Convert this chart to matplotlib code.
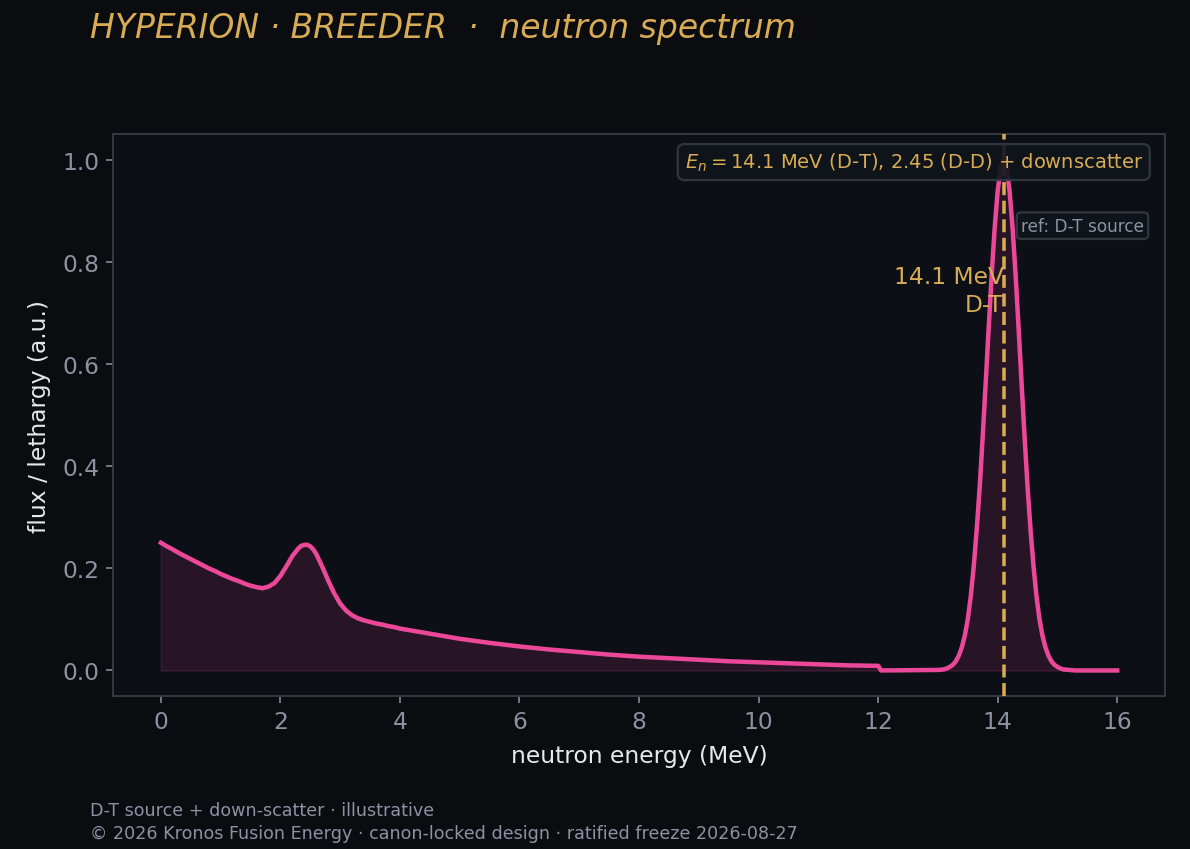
import numpy as np
import matplotlib
matplotlib.use("Agg")
import matplotlib.pyplot as plt

# continuum: slowing-down tail + D-D bump at 2.45 MeV
e_cont = [0.0, 0.1, 0.2, 0.3, 0.4, 0.5, 0.6, 0.7, 0.8, 0.9,
          1.0, 1.1, 1.2, 1.3, 1.4, 1.5, 1.6, 1.7, 1.8, 1.9,
          2.0, 2.1, 2.2, 2.3, 2.35, 2.4, 2.45, 2.5, 2.55, 2.6, 2.7, 2.8, 2.9,
          3.0, 3.1, 3.2, 3.3, 3.4, 3.5, 3.6, 3.7, 3.8, 3.9,
          4.0, 4.5, 5.0, 5.5, 6.0, 6.5, 7.0, 7.5, 8.0, 8.5,
          9.0, 9.5, 10.0, 10.5, 11.0, 11.5, 12.0]
f_cont = [0.250, 0.243, 0.237, 0.230, 0.224, 0.218, 0.212, 0.206, 0.200, 0.195,
          0.189, 0.184, 0.179, 0.175, 0.170, 0.166, 0.163, 0.161, 0.164, 0.171,
          0.185, 0.204, 0.224, 0.239, 0.244, 0.246, 0.246, 0.243, 0.237, 0.228, 0.203, 0.176, 0.151,
          0.131, 0.117, 0.108, 0.102, 0.098, 0.095, 0.092, 0.090, 0.087, 0.085,
          0.082, 0.072, 0.062, 0.054, 0.047, 0.041, 0.036, 0.031, 0.027, 0.024,
          0.021, 0.018, 0.016, 0.014, 0.012, 0.010, 0.009]

# D-T line at 14.1 MeV
e_peak = [12.05, 13.0, 13.1, 13.15, 13.2, 13.25, 13.3, 13.35, 13.4, 13.45,
          13.5, 13.55, 13.6, 13.65, 13.7, 13.75, 13.8, 13.85, 13.9, 13.95,
          14.0, 14.05, 14.1, 14.15, 14.2, 14.25, 14.3, 14.35, 14.4, 14.45,
          14.5, 14.55, 14.6, 14.65, 14.7, 14.75, 14.8, 14.85, 14.9, 14.95,
          15.0, 15.05, 15.1, 15.2, 15.3, 16.0]
f_peak = [0.0, 0.001, 0.002, 0.004, 0.007, 0.011, 0.018, 0.029, 0.045, 0.068,
          0.100, 0.145, 0.204, 0.276, 0.360, 0.458, 0.563, 0.671, 0.775, 0.866,
          0.938, 0.984, 1.000, 0.984, 0.938, 0.866, 0.775, 0.671, 0.563, 0.458,
          0.360, 0.276, 0.204, 0.145, 0.100, 0.068, 0.045, 0.029, 0.018, 0.011,
          0.007, 0.004, 0.002, 0.001, 0.0, 0.0]

e_dt = 14.1

energy = np.array(e_cont + e_peak)
flux = np.array(f_cont + f_peak)

BG = "#0a0c10"
AX_BG = "#0c0f16"
PINK = "#ec4899"
GOLD = "#d8ac55"
GREY = "#8b93a3"
LIGHT = "#e6e8ec"
EDGE = "#353a43"

plt.rcParams["font.family"] = ["DejaVu Sans"]

fig = plt.figure(figsize=(8.5, 6.0714), dpi=140, facecolor=BG)
ax = fig.add_axes([0.095, 0.180, 0.884, 0.6611])
ax.set_facecolor(AX_BG)

ax.fill_between(energy, 0, flux, color=PINK, alpha=0.12, linewidth=1)
ax.plot(energy, flux, color=PINK, linewidth=2.3)
ax.axvline(e_dt, color=GOLD, linestyle="--", linewidth=1.8, zorder=3)

ax.text(e_dt, 0.744, "14.1 MeV\nD-T", color=GOLD, fontsize=12,
        ha="right", va="center", multialignment="right", linespacing=1.3)

ax.text(0.979, 0.970, "$E_n = 14.1$ MeV (D-T), 2.45 (D-D) + downscatter",
        transform=ax.transAxes, ha="right", va="top", color=GOLD, fontsize=10,
        bbox=dict(boxstyle="round,pad=0.35", facecolor="#10141b", edgecolor=EDGE,
                  alpha=0.9, linewidth=1.2), zorder=5)
ax.text(0.980, 0.837, "ref: D-T source", transform=ax.transAxes,
        ha="right", va="center", color=GREY, fontsize=8.7,
        bbox=dict(boxstyle="round,pad=0.25", facecolor="#10141b", edgecolor=EDGE,
                  alpha=0.9, linewidth=1.2), zorder=5)

ax.set_xticks([0, 2, 4, 6, 8, 10, 12, 14, 16])
ax.set_yticks([0.0, 0.2, 0.4, 0.6, 0.8, 1.0])
ax.tick_params(colors=GREY, labelsize=12, labelcolor=GREY)
for s in ax.spines.values():
    s.set_color(EDGE)
    s.set_linewidth(1)

ax.set_xlabel("neutron energy (MeV)", color=LIGHT, fontsize=12, labelpad=6)
ax.set_ylabel("flux / lethargy (a.u.)", color=LIGHT, fontsize=12, labelpad=6)

fig.text(0.0756, 0.967, "HYPERION · BREEDER  ·  neutron spectrum", color=GOLD,
         fontsize=17, style="italic", ha="left", va="center")
fig.text(0.0756, 0.046, "D-T source + down-scatter · illustrative", color=GREY,
         fontsize=9, ha="left", va="center")
fig.text(0.0756, 0.019, "© 2026 Kronos Fusion Energy · canon-locked design · ratified freeze 2026-08-27",
         color=GREY, fontsize=9, ha="left", va="center")

fig.savefig("out.png", dpi=140, facecolor=BG)
